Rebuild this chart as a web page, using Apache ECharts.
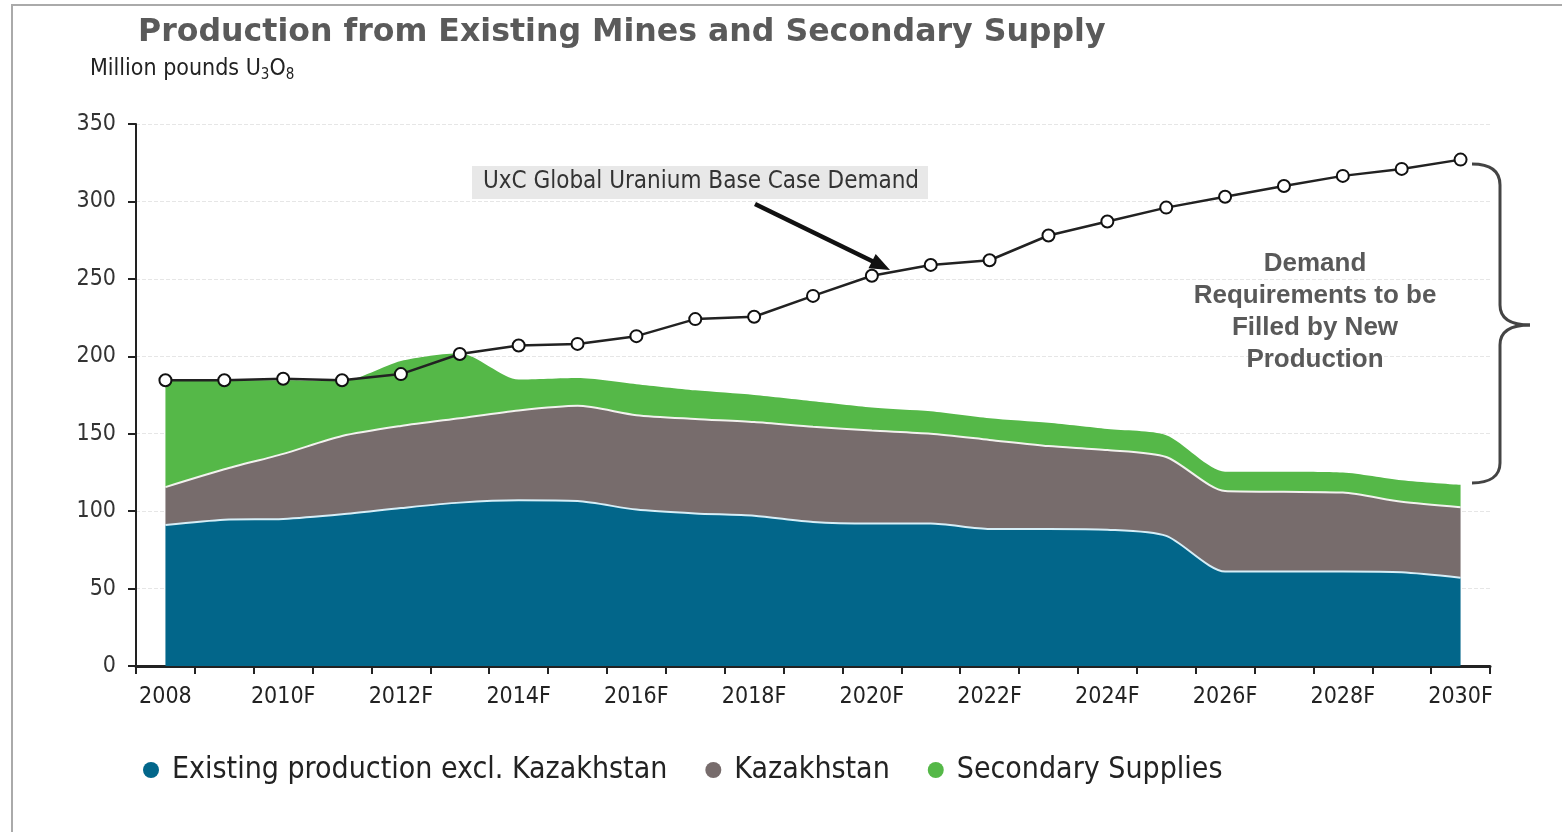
<!DOCTYPE html>
<html>
<head>
<meta charset="utf-8">
<title>Production from Existing Mines and Secondary Supply</title>
<script src="https://cdn.jsdelivr.net/npm/echarts@6/dist/echarts.min.js"></script>
<style>
  html, body { margin: 0; padding: 0; background: #fff; }
  #main { width: 1562px; height: 832px; }
</style>
</head>
<body>
<div id="main"></div>
<script>
// 数据 ---------------------------------------------
var years = ['2008', '2009', '2010F', '2011F', '2012F', '2013F', '2014F', '2015F', '2016F', '2017F', '2018F',
    '2019F', '2020F', '2021F', '2022F', '2023F', '2024F', '2025F', '2026F', '2027F', '2028F', '2029F', '2030F'];

// existing production excl. Kazakhstan
var existingExKaz = [91, 94.5, 95, 98, 102, 105.5, 107, 106.5, 101, 98.5, 97, 93, 92, 92, 88.5, 88.5, 88, 84, 61, 61, 61, 60.5, 57];
// Kazakhstan (stacked on top)
var kazakhstan = [24.5, 32.5, 42, 50.5, 53, 54.5, 58, 61.5, 61, 61, 60.5, 61.5, 60, 58, 57.5, 53.5, 51.5, 51, 52, 51.5, 51, 45.5, 45.5];
// secondary supplies (stacked on top)
var secondary = [69, 57.5, 47.5, 35.5, 42, 42, 20, 18, 20, 18.5, 17.5, 16.5, 15, 14.5, 14, 15, 13.5, 14, 12.5, 13, 13, 14, 14.5];
// UxC base case demand
var demand = [184.5, 184.5, 185.5, 184.5, 188.5, 201.5, 207, 208, 213, 224, 225.5, 239, 252, 259, 262, 278, 287, 296, 303, 310, 316.5, 321, 327];

var narrowFont = '"Liberation Sans Narrow", "DejaVu Sans Condensed", "Liberation Sans", sans-serif';
var braceStyle = { fill: 'none', stroke: '#444', lineWidth: 3 };

var chart = echarts.init(document.getElementById('main'));

var option = {
    backgroundColor: '#fff',
    animation: false,
    title: {
        text: 'Production from Existing Mines and Secondary Supply',
        left: 138,
        top: 17,
        padding: 0,
        textStyle: {
            fontFamily: '"DejaVu Sans", sans-serif',
            fontWeight: 'bold',
            fontSize: 31.6,
            color: '#5a5a5a'
        }
    },
    grid: {
        left: 136,
        right: 72,
        top: 124,
        bottom: 166
    },
    legend: {
        data: ['Existing production excl. Kazakhstan', 'Kazakhstan', 'Secondary Supplies'],
        left: 138,
        top: 750,
        icon: 'circle',
        itemWidth: 16,
        itemHeight: 16,
        itemGap: 38,
        textStyle: {
            fontFamily: narrowFont,
            fontSize: 30,
            color: '#222',
            padding: [0, 0, 0, 8]
        }
    },
    xAxis: {
        type: 'category',
        data: years,
        boundaryGap: true,
        axisLine: { lineStyle: { color: '#222', width: 3 } },
        axisTick: { show: true, interval: 0, length: 8, lineStyle: { color: '#222', width: 2 } },
        axisLabel: {
            interval: 1,
            margin: 20,
            fontFamily: narrowFont,
            fontSize: 23,
            color: '#222'
        },
        splitLine: { show: false }
    },
    yAxis: {
        type: 'value',
        min: 0,
        max: 350,
        interval: 50,
        axisLine: { show: true, lineStyle: { color: '#222', width: 2 } },
        axisTick: { show: true, length: 8, lineStyle: { color: '#222', width: 2 } },
        axisLabel: {
            margin: 20,
            fontFamily: narrowFont,
            fontSize: 23,
            color: '#333'
        },
        splitLine: { show: true, lineStyle: { color: '#e6e6e6', type: 'dashed', width: 1 } }
    },
    series: [
        {
            name: 'Existing production excl. Kazakhstan',
            type: 'line',
            stack: 'supply',
            smooth: 0.25,
            symbol: 'none',
            color: '#02668a',
            lineStyle: { color: '#d6eef7', width: 2 },
            areaStyle: { color: '#02668a', opacity: 1 },
            data: existingExKaz
        },
        {
            name: 'Kazakhstan',
            type: 'line',
            stack: 'supply',
            smooth: 0.25,
            symbol: 'none',
            color: '#776c6c',
            lineStyle: { color: '#f2f2ee', width: 2 },
            areaStyle: { color: '#776c6c', opacity: 1 },
            data: kazakhstan
        },
        {
            name: 'Secondary Supplies',
            type: 'line',
            stack: 'supply',
            smooth: 0.25,
            symbol: 'none',
            color: '#55b848',
            lineStyle: { width: 0 },
            areaStyle: { color: '#55b848', opacity: 1 },
            z: 1,
            data: secondary
        },
        {
            name: 'UxC Global Uranium Base Case Demand',
            type: 'line',
            symbol: 'circle',
            symbolSize: 12,
            itemStyle: { color: '#fff', borderColor: '#111', borderWidth: 2 },
            lineStyle: { color: '#222', width: 2.5 },
            z: 5,
            data: demand
        }
    ],
    graphic: [
        // 外框
        {
            type: 'rect',
            shape: { x: 12, y: 5, width: 1600, height: 900 },
            style: { fill: 'none', stroke: '#aaa', lineWidth: 2 },
            silent: true
        },
        // 单位
        {
            type: 'text',
            x: 90,
            y: 55,
            style: {
                text: 'Million pounds U{sub|3}O{sub|8}',
                font: '23px ' + narrowFont,
                fill: '#222',
                rich: {
                    sub: { fontSize: 15, fontFamily: narrowFont, fill: '#222', padding: [13, 0, 0, 0] }
                }
            }
        },
        // 需求标注
        {
            type: 'rect',
            shape: { x: 472, y: 166, width: 456, height: 33 },
            style: { fill: '#e8e8e8' },
            z: 10
        },
        {
            type: 'text',
            x: 701,
            y: 182,
            style: {
                text: 'UxC Global Uranium Base Case Demand',
                font: '24px ' + narrowFont,
                fill: '#333',
                align: 'center',
                verticalAlign: 'middle'
            },
            z: 11
        },
        {
            type: 'line',
            shape: { x1: 755, y1: 204, x2: 874, y2: 262 },
            style: { stroke: '#111', lineWidth: 4.5 },
            z: 10
        },
        {
            type: 'polygon',
            shape: { points: [[890, 270], [868.5, 268.3], [875.7, 253.9]] },
            style: { fill: '#111' },
            z: 10
        },
        // 右侧大括号
        {
            type: 'bezierCurve',
            shape: { x1: 1472, y1: 164, cpx1: 1490, cpy1: 164, cpx2: 1500, cpy2: 170, x2: 1500, y2: 185 },
            style: braceStyle, z: 10
        },
        {
            type: 'line',
            shape: { x1: 1500, y1: 185, x2: 1500, y2: 305 },
            style: braceStyle, z: 10
        },
        {
            type: 'bezierCurve',
            shape: { x1: 1500, y1: 305, cpx1: 1500, cpy1: 318, cpx2: 1510, cpy2: 325, x2: 1530, y2: 325 },
            style: braceStyle, z: 10
        },
        {
            type: 'bezierCurve',
            shape: { x1: 1530, y1: 325, cpx1: 1510, cpy1: 325, cpx2: 1500, cpy2: 332, x2: 1500, y2: 345 },
            style: braceStyle, z: 10
        },
        {
            type: 'line',
            shape: { x1: 1500, y1: 345, x2: 1500, y2: 463 },
            style: braceStyle, z: 10
        },
        {
            type: 'bezierCurve',
            shape: { x1: 1500, y1: 463, cpx1: 1500, cpy1: 476, cpx2: 1490, cpy2: 483, x2: 1472, y2: 483 },
            style: braceStyle, z: 10
        },
        {
            type: 'text',
            x: 1315,
            y: 312,
            style: {
                text: 'Demand\nRequirements to be\nFilled by New\nProduction',
                font: 'bold 26px "Liberation Sans", Arial, sans-serif',
                fill: '#595959',
                align: 'center',
                verticalAlign: 'middle',
                lineHeight: 32
            },
            z: 10
        }
    ]
};

chart.setOption(option);
</script>
</body>
</html>
